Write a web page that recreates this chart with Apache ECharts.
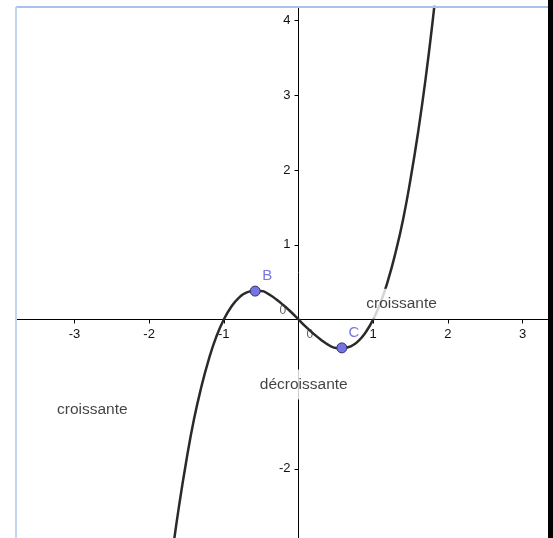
<!DOCTYPE html>
<html>
<head>
<meta charset="utf-8">
<script src="https://cdn.jsdelivr.net/npm/echarts@6/dist/echarts.min.js"></script>
<style>
  html, body { margin: 0; padding: 0; background: #fff; }
  #chart { width: 553px; height: 538px; }
</style>
</head>
<body>
<div id="chart"></div>
<script>
// curve f (passes through -1, 0, 1)
const curveX = [-1.8, -1.7, -1.6, -1.5, -1.4, -1.3, -1.2, -1.1, -1.0, -0.9, -0.8, -0.7, -0.6, -0.5, -0.4, -0.3, -0.2, -0.1,
  0, 0.1, 0.2, 0.3, 0.4, 0.5, 0.6, 0.7, 0.8, 0.9, 1.0, 1.1, 1.2, 1.3, 1.4, 1.5, 1.6, 1.7, 1.8, 1.9];
const curveY = [-4.03, -3.21, -2.5, -1.88, -1.34, -0.9, -0.53, -0.23, 0, 0.17, 0.29, 0.36, 0.38, 0.38, 0.34, 0.27, 0.19, 0.1,
  0, -0.1, -0.19, -0.27, -0.34, -0.38, -0.38, -0.36, -0.29, -0.17, 0, 0.23, 0.53, 0.9, 1.34, 1.88, 2.5, 3.21, 4.03, 4.96];

// extrema
const pointNames = ["B", "C"];
const pointX = [-0.58, 0.58];
const pointY = [0.38, -0.38];

// texts placed on the plane
const noteText = ["croissante", "décroissante", "croissante"];
const noteX = [1.38, 0.07, -2.76];
const noteY = [0.21, -0.87, -1.21];
const zeroText = ["0", "0"];
const zeroX = [-0.21, 0.15];
const zeroY = [0.12, -0.2];

const xTicks = [-3, -2, -1, 1, 2, 3];
const yTicks = [-2, 1, 2, 3, 4];

const xMin = -3.782, xMax = 3.34;
const yMin = -2.925, yMax = 4.183;

const font = "'Liberation Sans', Arial, sans-serif";
const W = 553, H = 538;
const gLeft = 16, gRight = 5, gTop = 7, gBottom = 0;
const plotW = W - gLeft - gRight, plotH = H - gTop - gBottom;
// move each axis onto the other's zero line
const xOffset = -plotH * (0 - yMin) / (yMax - yMin);
const yOffset = -plotW * (0 - xMin) / (xMax - xMin);

const chart = echarts.init(document.getElementById("chart"));

const option = {
  animation: false,
  backgroundColor: "#fff",
  grid: { left: gLeft, right: gRight, top: gTop, bottom: gBottom, outerBoundsMode: "none" },
  xAxis: {
    type: "value",
    position: "bottom",
    offset: xOffset,
    min: xMin,
    max: xMax,
    axisLine: { onZero: false, lineStyle: { color: "#000", width: 1 } },
    axisTick: { show: true, length: 4, customValues: xTicks, lineStyle: { color: "#000" } },
    axisLabel: { customValues: xTicks, margin: 8, color: "#111", fontSize: 13, fontFamily: font },
    splitLine: { show: false }
  },
  yAxis: {
    type: "value",
    position: "left",
    offset: yOffset,
    min: yMin,
    max: yMax,
    axisLine: { onZero: false, lineStyle: { color: "#000", width: 1 } },
    axisTick: { show: true, length: 4, customValues: yTicks, lineStyle: { color: "#000" } },
    axisLabel: { customValues: yTicks, margin: 8, color: "#111", fontSize: 13, fontFamily: font },
    splitLine: { show: false }
  },
  series: [
    {
      type: "line",
      data: curveX.map((x, i) => [x, curveY[i]]),
      smooth: true,
      showSymbol: false,
      silent: true,
      lineStyle: { color: "#2a2a2a", width: 2.5 },
      z: 2
    },
    {
      type: "scatter",
      data: pointX.map((x, i) => ({ value: [x, pointY[i]], name: pointNames[i] })),
      symbolSize: 10,
      itemStyle: { color: "#7474e2", borderColor: "#33336a", borderWidth: 1, opacity: 1 },
      label: {
        show: true,
        formatter: "{b}",
        position: "top",
        distance: 2,
        offset: [12, 0],
        color: "#7878e0",
        fontSize: 15,
        fontFamily: font
      },
      z: 4
    },
    {
      type: "scatter",
      data: noteX.map((x, i) => ({ value: [x, noteY[i]], name: noteText[i] })),
      symbolSize: 1,
      itemStyle: { color: "rgba(0,0,0,0)" },
      label: {
        show: true,
        formatter: "{b}",
        position: "inside",
        color: "#111",
        fontSize: 15.5,
        fontFamily: font,
        backgroundColor: "#fff",
        padding: [7, 3]
      },
      z: 5
    },
    {
      type: "scatter",
      data: zeroX.map((x, i) => ({ value: [x, zeroY[i]], name: zeroText[i] })),
      symbolSize: 1,
      itemStyle: { color: "rgba(0,0,0,0)" },
      label: {
        show: true,
        formatter: "{b}",
        position: "inside",
        color: "#333",
        fontSize: 12,
        fontFamily: font
      },
      z: 5
    }
  ],
  graphic: [
    { type: "line", shape: { x1: 16, y1: 7, x2: 548, y2: 7 }, style: { stroke: "#a9c2ea", lineWidth: 2 }, z: 10 },
    { type: "line", shape: { x1: 16, y1: 7, x2: 16, y2: 538 }, style: { stroke: "#c4d4ee", lineWidth: 2 }, z: 10 },
    { type: "rect", shape: { x: 548, y: 0, width: 5, height: 538 }, style: { fill: "#000" }, z: 10 }
  ]
};

chart.setOption(option);
</script>
</body>
</html>
